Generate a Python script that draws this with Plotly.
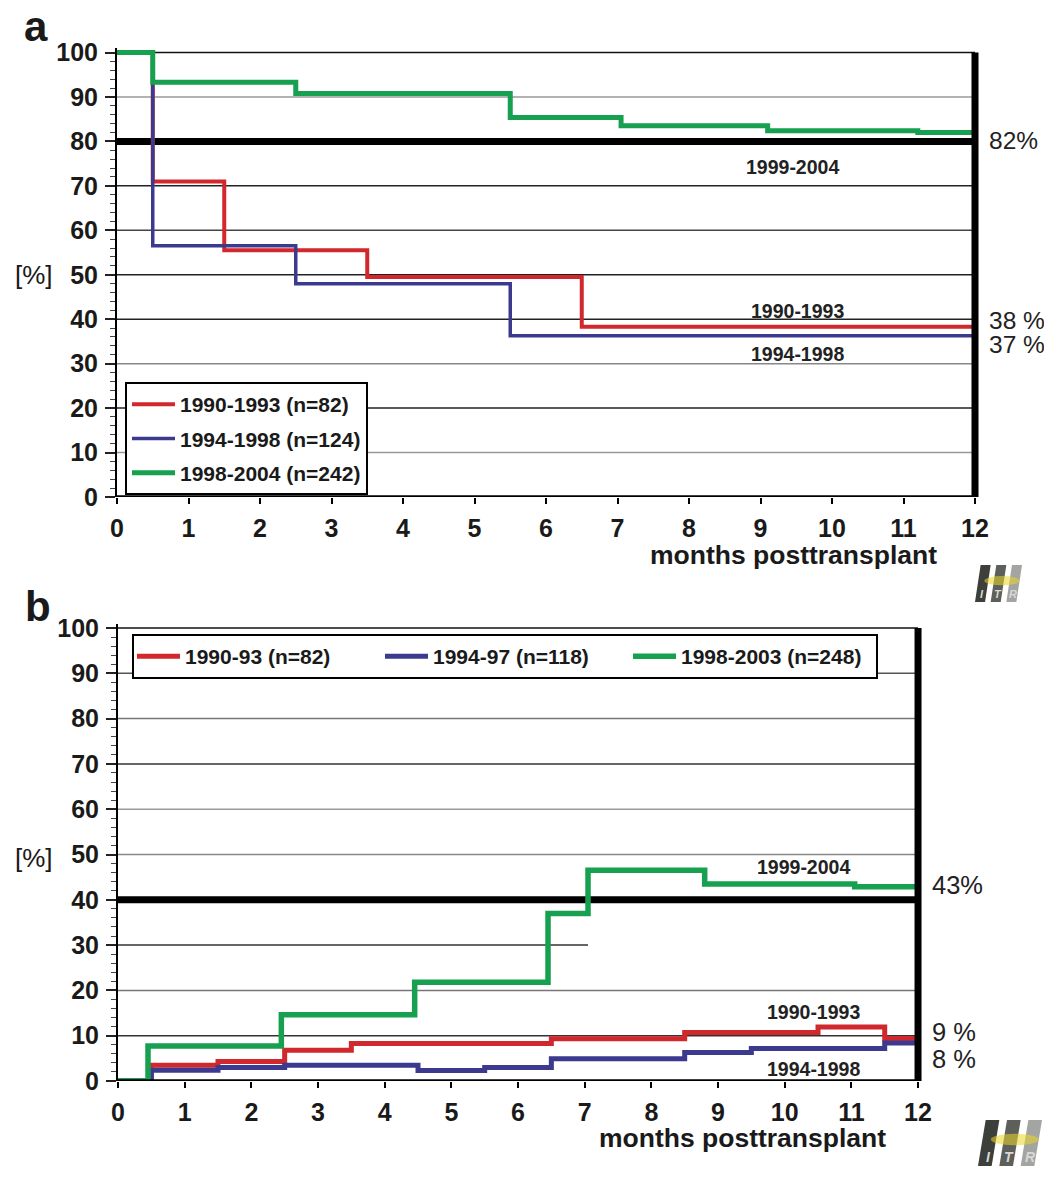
import plotly.graph_objects as go

FW, FH = 1044, 1168
def px(x): return x / FW
def py(y): return 1 - y / FH

# ---------------- data ----------------
months_ticks = list(range(0, 13))
y_ticks = list(range(0, 101, 10))

# Panel a: survival [%]
a_red_x = [0, 0.5, 1.5, 3.5, 6.5, 12]
a_red_y = [100, 71, 55.5, 49.5, 38.3, 38.3]
a_blue_x = [0, 0.5, 2.5, 5.5, 12]
a_blue_y = [100, 56.5, 48.0, 36.3, 36.3]
a_green_x = [0, 0.5, 2.5, 5.5, 7.05, 9.1, 11.2, 12]
a_green_y = [100, 93.3, 90.8, 85.4, 83.5, 82.4, 82.0, 82.0]
a_names = ["1990-1993 (n=82)", "1994-1998 (n=124)", "1998-2004 (n=242)"]

# Panel b: cumulative incidence [%]
b_red_x = [0, 0.5, 1.5, 2.5, 3.5, 6.5, 8.5, 10.5, 11.5, 12]
b_red_y = [0, 3.5, 4.3, 6.8, 8.3, 9.3, 10.7, 11.9, 9.4, 9.4]
b_blue_x = [0, 0.5, 1.5, 2.5, 4.5, 5.5, 6.5, 8.5, 9.5, 11.5, 12]
b_blue_y = [0, 2.4, 3.0, 3.5, 2.3, 3.0, 4.9, 6.3, 7.2, 8.4, 8.4]
b_green_x = [0, 0.45, 2.45, 4.45, 6.45, 7.05, 8.8, 11.05, 12]
b_green_y = [0, 7.7, 14.6, 21.8, 37.0, 46.5, 43.5, 42.9, 42.9]
b_names = ["1990-93 (n=82)", "1994-97 (n=118)", "1998-2003 (n=248)"]

# reference lines
a_ref = 80
b_ref = 40

# end labels
a_end_labels = [("82%", 80.3), ("38 %", 39.7), ("37 %", 34.4)]
b_end_labels = [("43%", 43.3), ("9 %", 10.9), ("8 %", 4.8)]
a_inner = [("1999-2004", 9.45, 74.3), ("1990-1993", 9.52, 41.9), ("1994-1998", 9.52, 32.2)]
b_inner = [("1999-2004", 10.28, 47.3), ("1990-1993", 10.43, 15.3), ("1994-1998", 10.43, 2.6)]

RED = "#d0282c"
BLUE = "#3b3a8e"
GREEN = "#17a050"
FONT = "Liberation Sans"

fig = go.Figure()

for xs, ys, c, n, w, g in [(a_red_x, a_red_y, RED, a_names[0], 4, "r"),
                           (a_blue_x, a_blue_y, BLUE, a_names[1], 3.5, "b"),
                           (a_green_x, a_green_y, GREEN, a_names[2], 5, "g")]:
    fig.add_trace(go.Scatter(x=xs, y=ys, mode="lines", line=dict(color=c, width=w, shape="hv"),
                             name=n, xaxis="x", yaxis="y", legend="legend", legendgroup="a" + g,
                             hoverinfo="skip"))
for xs, ys, c, n, w, g in [(b_red_x, b_red_y, RED, b_names[0], 5, "r"),
                           (b_blue_x, b_blue_y, BLUE, b_names[1], 5, "b"),
                           (b_green_x, b_green_y, GREEN, b_names[2], 5.5, "g")]:
    fig.add_trace(go.Scatter(x=xs, y=ys, mode="lines", line=dict(color=c, width=w, shape="hv"),
                             name=n, xaxis="x2", yaxis="y2", legend="legend2", legendgroup="b" + g,
                             hoverinfo="skip"))

shapes = []
a_grid_col = {100: "#111", 90: "#999", 70: "#222", 60: "#444", 50: "#222", 40: "#222",
              30: "#888", 20: "#222", 10: "#999"}
for v, col in a_grid_col.items():
    shapes.append(dict(type="line", xref="x", yref="y", x0=0, x1=12, y0=v, y1=v,
                       line=dict(color=col, width=1.5), layer="below"))
b_grid = {100: ("#111", 12), 90: ("#555", 12), 80: ("#777", 12), 70: ("#333", 12), 60: ("#999", 12),
          50: ("#888", 12), 30: ("#333", 7.05), 20: ("#777", 12), 10: ("#333", 12)}
for v, (col, xe) in b_grid.items():
    shapes.append(dict(type="line", xref="x2", yref="y2", x0=0, x1=xe, y0=v, y1=v,
                       line=dict(color=col, width=1.5), layer="below"))
for xr, yr, ref in [("x", "y", a_ref), ("x2", "y2", b_ref)]:
    shapes.append(dict(type="line", xref=xr, yref=yr, x0=0, x1=12, y0=ref, y1=ref,
                       line=dict(color="black", width=7), layer="below"))
    shapes.append(dict(type="line", xref=xr, yref=yr, x0=0, x1=12, y0=0, y1=0,
                       line=dict(color="black", width=3.5)))
    shapes.append(dict(type="line", xref=xr, yref=yr, x0=12, x1=12, y0=0, y1=100,
                       line=dict(color="black", width=7)))

def logo(x0, y0, w, h):
    out = []
    cols = ["#3c3f3a", "#5d605a", "#a3a5a2"]
    bw = w / 3
    sl = w * 0.12
    for i, c in enumerate(cols):
        xa = x0 + i * bw
        path = "M {} {} L {} {} L {} {} L {} {} Z".format(
            px(xa + sl), py(y0), px(xa + bw), py(y0), px(xa + bw - sl), py(y0 + h), px(xa), py(y0 + h))
        out.append(dict(type="path", xref="paper", yref="paper", path=path,
                        fillcolor=c, line=dict(width=0)))
    out.append(dict(type="circle", xref="paper", yref="paper",
                    x0=px(x0 + w * 0.2), x1=px(x0 + w * 0.95), y0=py(y0 + h * 0.55), y1=py(y0 + h * 0.3),
                    fillcolor="rgba(235,215,40,0.55)", line=dict(width=0)))
    return out

shapes += logo(975, 565, 47, 37)
shapes += logo(978, 1120, 64, 46)

annotations = []
def ann(text, x, y, size, bold=False, xanchor="center", yanchor="middle", xref="paper", yref="paper",
        color="#1a1a1a", italic=False):
    annotations.append(dict(text=text, x=x, y=y, xref=xref, yref=yref, showarrow=False,
                            xanchor=xanchor, yanchor=yanchor,
                            font=dict(family=FONT, size=size, color=color,
                                      weight="bold" if bold else "normal",
                                      style="italic" if italic else "normal")))

ann("a", px(22), py(26), 42, bold=True, xanchor="left")
ann("b", px(23), py(606), 42, bold=True, xanchor="left")
ann("[%]", px(34), py(275), 26)
ann("[%]", px(34), py(858), 26)
ann("months posttransplant", px(793), py(555), 26.5, bold=True)
ann("months posttransplant", px(742), py(1138), 26.5, bold=True)
for t, yv in a_end_labels:
    annotations.append(dict(text=t, x=12, y=yv, xref="x", yref="y", showarrow=False,
                            xanchor="left", xshift=12, font=dict(family=FONT, size=24.5, color="#222")))
for t, yv in b_end_labels:
    annotations.append(dict(text=t, x=12, y=yv, xref="x2", yref="y2", showarrow=False,
                            xanchor="left", xshift=12, font=dict(family=FONT, size=25.5, color="#222")))
for t, xv, yv in a_inner:
    ann(t, xv, yv, 19.5, bold=True, xref="x", yref="y", color="#222")
for t, xv, yv in b_inner:
    ann(t, xv, yv, 19.5, bold=True, xref="x2", yref="y2", color="#222")
for i, l in enumerate("ITR"):
    ann(l, px(982 + i * 15.5), py(594), 11, bold=True, italic=True, color="#d8d8d8")
    ann(l, px(988 + i * 21), py(1157), 14, bold=True, italic=True, color="#d8d8d8")

tickfont = dict(family=FONT, size=25, color="#1a1a1a", weight="bold")
def xax(dom, anchor):
    return dict(domain=dom, range=[0, 12.1], anchor=anchor, tickmode="array", tickvals=months_ticks,
                ticks="outside", ticklen=6, tickwidth=2, tickcolor="black", showgrid=False,
                zeroline=False, showline=False, tickfont=tickfont, fixedrange=True,
                ticklabelstandoff=3, automargin=False)
def yax(dom, anchor):
    return dict(domain=dom, range=[0, 101], anchor=anchor, tickmode="array", tickvals=y_ticks,
                ticks="outside", ticklen=10, tickwidth=1.5, tickcolor="#222", showgrid=False,
                zeroline=False, showline=True, linecolor="black", linewidth=2,
                minor=dict(dtick=2, tick0=0, ticks="outside", ticklen=5, tickcolor="#444", tickwidth=1),
                tickfont=tickfont, fixedrange=True, ticklabelstandoff=2, automargin=False)

legfont = dict(family=FONT, size=21, color="#1a1a1a", weight="bold")
fig.update_layout(
    width=FW, height=FH, autosize=False,
    margin=dict(l=0, r=0, t=0, b=0, pad=0),
    paper_bgcolor="white", plot_bgcolor="white",
    xaxis=xax([px(117), px(982.15)], "y"),
    yaxis=yax([py(497), py(48.06)], "x"),
    xaxis2=xax([px(118), px(924.7)], "y2"),
    yaxis2=yax([py(1081), py(623.5)], "x2"),
    legend=dict(x=px(125), y=py(382), xanchor="left", yanchor="top", bgcolor="white",
                bordercolor="black", borderwidth=2, tracegroupgap=4, itemwidth=43,
                font=legfont),
    legend2=dict(x=px(132), y=py(634), xanchor="left", yanchor="top", orientation="h",
                 bgcolor="white", bordercolor="black", borderwidth=2, entrywidth=190, itemwidth=43,
                 font=legfont),
    shapes=shapes, annotations=annotations, showlegend=True,
)

fig.write_html("out.html", config={"displayModeBar": False},
               post_script="document.body.style.margin='0';")
